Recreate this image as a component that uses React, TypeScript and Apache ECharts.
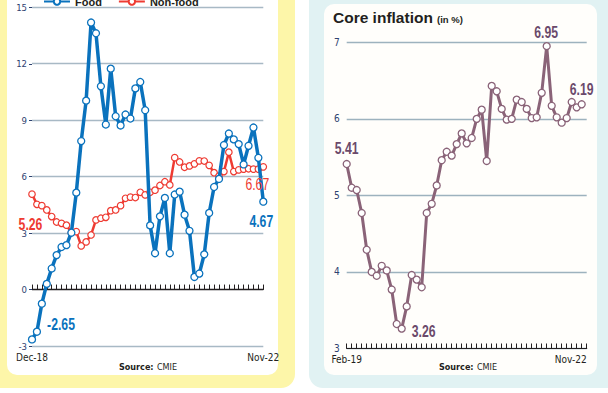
import React, { useEffect, useRef } from "react";
import * as echarts from "echarts";

// ---------- data ----------
const monthAbbr = ["Jan", "Feb", "Mar", "Apr", "May", "Jun", "Jul", "Aug", "Sep", "Oct", "Nov", "Dec"];
// Dec-18 .. Nov-22 (48 months)
const foodMonths = Array.from({ length: 48 }, (_, i) => {
  const m = (11 + i) % 12;
  const y = 18 + Math.floor((11 + i) / 12);
  return `${monthAbbr[m]}-${y}`;
});

const foodValues = [
  -2.65, -2.24, -0.75, 0.3, 1.12, 1.83, 2.26, 2.36, 3.02, 5.15,
  7.89, 10.04, 14.19, 13.62, 10.8, 8.77, 11.74, 9.21, 8.72, 9.3,
  9.09, 10.69, 11.03, 9.53, 3.41, 1.93, 3.89, 4.87, 1.93, 5.05,
  5.2, 3.98, 3.12, 0.67, 0.85, 1.87, 4.07, 5.45, 5.88, 7.68,
  8.29, 7.98, 7.73, 6.65, 7.64, 8.61, 7.0, 4.67,
];

const nonFoodValues = [
  5.07, 4.53, 4.46, 4.23, 3.88, 3.59, 3.52, 3.42, 3.03, 3.08,
  2.32, 2.53, 2.9, 3.7, 3.79, 3.84, 4.19, 4.23, 4.46, 4.85,
  4.91, 4.89, 5.17, 5.03, 5.17, 5.28, 5.53, 5.73, 5.56, 7.01,
  6.78, 6.5, 6.57, 6.68, 6.84, 6.83, 6.6, 6.21, 6.03, 6.27,
  7.3, 6.27, 6.36, 6.4, 6.42, 6.4, 6.4, 6.52,
];

const coreValues = [
  5.41, 5.1, 5.07, 4.77, 4.29, 4.0, 3.95, 4.08, 4.02, 3.77,
  3.32, 3.26, 3.55, 3.96, 3.9, 3.8, 4.77, 4.89, 5.13, 5.46,
  5.57, 5.52, 5.67, 5.81, 5.68, 5.75, 6.0, 6.12, 5.45, 6.43,
  6.36, 6.13, 5.99, 6.0, 6.25, 6.22, 6.13, 6.01, 6.02, 6.34,
  6.95, 6.17, 6.02, 5.95, 6.01, 6.22, 6.15, 6.19,
];

const coreTickLabels = ["Feb-19", "Nov-22"];
const seriesNames = ["Food", "Non-food"];
const foodCallouts = ["-2.65", "4.67"];
const nonFoodCallouts = ["5.26", "6.67"];
const coreCallouts = ["5.41", "3.26", "6.95", "6.19"];

// ---------- styles ----------
const COND = "'Liberation Sans Narrow', 'DejaVu Sans Condensed', 'Liberation Sans', sans-serif";
const LIB = "'Liberation Sans', Arial, sans-serif";
const BLUE = "#0A72BD";
const RED = "#EE3B32";
const MAUVE = "#8A6378";
const MAUVE_TXT = "#6B4A6B";
const AXIS_TXT = "#2E4270";
const GRID = "#A8B9C5";

function buildOption() {
  const srcRich = {
    b: { fontWeight: "bold", fontSize: 9, fontFamily: COND, fill: "#231F20", color: "#231F20" },
    r: { fontSize: 9, fontFamily: COND, fill: "#231F20", color: "#231F20" },
  };

  return {
    animation: false,
    backgroundColor: "#FFFFFF",
    graphic: [
      { id: "bgL", type: "rect", z: -10, silent: true, shape: { x: -20, y: -20, width: 315, height: 408, r: 14 }, style: { fill: "#FDF6A9" } },
      { id: "inL", type: "rect", z: -9, silent: true, shape: { x: 7, y: -20, width: 271, height: 395, r: 10 }, style: { fill: "#FFFFFF" } },
      { id: "bgR", type: "rect", z: -10, silent: true, shape: { x: 309, y: -20, width: 330, height: 408, r: 14 }, style: { fill: "#E1F2F3" } },
      { id: "inR", type: "rect", z: -9, silent: true, shape: { x: 324, y: 4, width: 273, height: 371, r: 10 }, style: { fill: "#FFFEFB" } },
      {
        id: "title", type: "text", z: 10, x: 333, y: 17.5,
        style: { text: "Core inflation", fontSize: 15.5, fontWeight: "bold", fontFamily: LIB, fill: "#231F20", verticalAlign: "middle", align: "left" },
      },
      {
        id: "unit", type: "text", z: 10, x: 437, y: 19.8,
        style: { text: "(in %)", fontSize: 9.5, fontWeight: "bold", fontFamily: LIB, fill: "#231F20", verticalAlign: "middle", align: "left" },
      },
      {
        id: "srcL", type: "text", z: 10, x: 148, y: 367,
        style: { text: "{b|Source:} {r|CMIE}", rich: srcRich, align: "center", verticalAlign: "middle" },
      },
      {
        id: "srcR", type: "text", z: 10, x: 468, y: 367,
        style: { text: "{b|Source:} {r|CMIE}", rich: srcRich, align: "center", verticalAlign: "middle" },
      },
    ],
    legend: {
      top: -9,
      left: 38,
      itemWidth: 26,
      itemHeight: 8,
      itemGap: 16,
      data: seriesNames,
      textStyle: { fontFamily: LIB, fontWeight: "bold", fontSize: 11, color: "#231F20" },
    },
    grid: [
      { left: 32, top: 7.3, width: 231.3, height: 338.7 },
      { left: 346.7, top: 42.3, width: 240, height: 306.2 },
    ],
    xAxis: [
      {
        gridIndex: 0,
        type: "category",
        data: foodMonths,
        boundaryGap: false,
        axisLine: { lineStyle: { color: "#231F20", width: 1.2 } },
        axisTick: { inside: true, length: 5, interval: 0, lineStyle: { color: "#231F20", width: 1 } },
        axisLabel: {
          interval: (i: number) => i === 0 || i === foodMonths.length - 1,
          color: "#231F20",
          fontSize: 10,
          margin: 6,
          fontFamily: COND,
        },
        splitLine: { show: false },
      },
      {
        gridIndex: 1,
        type: "value",
        min: 0,
        max: 48,
        interval: 1,
        axisLine: { lineStyle: { color: "#231F20", width: 1.2 } },
        axisTick: { inside: true, length: 5, lineStyle: { color: "#231F20", width: 1 } },
        axisLabel: {
          formatter: (v: number) => (v === 0 ? coreTickLabels[0] : v === 48 ? coreTickLabels[1] : ""),
          color: "#231F20",
          fontSize: 10,
          margin: 6,
          fontFamily: COND,
          alignMaxLabel: "right",
        },
        splitLine: { show: false },
      },
    ],
    yAxis: [
      {
        gridIndex: 0,
        type: "value",
        min: -3,
        max: 15,
        interval: 3,
        axisLine: { show: false },
        axisTick: { show: true, length: 3, lineStyle: { color: AXIS_TXT } },
        axisLabel: { color: AXIS_TXT, fontSize: 9.5, margin: 5, fontFamily: COND },
        splitLine: { lineStyle: { color: [GRID, "#231F20", GRID, GRID, GRID, GRID, GRID], width: 1.3 } },
      },
      {
        gridIndex: 1,
        type: "value",
        min: 3,
        max: 7,
        interval: 1,
        axisLine: { show: false },
        axisTick: { show: false },
        axisLabel: { color: AXIS_TXT, fontSize: 10, margin: 7, fontFamily: COND },
        splitLine: { lineStyle: { color: "#9DB2BE", width: 1.3 } },
      },
    ],
    series: [
      {
        name: seriesNames[0],
        type: "line",
        xAxisIndex: 0,
        yAxisIndex: 0,
        data: foodValues,
        z: 4,
        symbol: "circle",
        symbolSize: 7,
        showAllSymbol: true,
        lineStyle: { color: BLUE, width: 3.5 },
        itemStyle: { color: "#FFFFFF", borderColor: BLUE, borderWidth: 1.3 },
        emphasis: { disabled: true },
      },
      {
        name: seriesNames[1],
        type: "line",
        xAxisIndex: 0,
        yAxisIndex: 0,
        data: nonFoodValues,
        z: 3,
        symbol: "circle",
        symbolSize: 6.5,
        showAllSymbol: true,
        lineStyle: { color: RED, width: 2.5 },
        itemStyle: { color: "#FFFFFF", borderColor: RED, borderWidth: 1.2 },
        emphasis: { disabled: true },
      },
      {
        name: "Core inflation",
        type: "line",
        xAxisIndex: 1,
        yAxisIndex: 1,
        data: coreValues.map((v, i) => [i, v]),
        z: 3,
        symbol: "circle",
        symbolSize: 7,
        showAllSymbol: true,
        lineStyle: { color: MAUVE, width: 3 },
        itemStyle: { color: "#FFFFFF", borderColor: MAUVE, borderWidth: 1.3 },
        emphasis: { disabled: true },
      },
    ],
  };
}

// callouts anchored to data points through the chart's own scales
function buildCallouts(chart: any) {
  const lastF = foodValues.length - 1;
  const lastN = nonFoodValues.length - 1;
  const lastC = coreValues.length - 1;
  const idxMin = coreValues.indexOf(Math.min(...coreValues));
  const idxMax = coreValues.indexOf(Math.max(...coreValues));
  const defs = [
    { g: 0, i: 0, v: foodValues[0], t: foodCallouts[0], c: BLUE, d: [29, -15], b: true },
    { g: 0, i: lastF, v: foodValues[lastF], t: foodCallouts[1], c: BLUE, d: [-2, 20], b: true },
    { g: 0, i: 0, v: nonFoodValues[0], t: nonFoodCallouts[0], c: RED, d: [-1.5, 30], b: true },
    { g: 0, i: lastN, v: nonFoodValues[lastN], t: nonFoodCallouts[1], c: RED, d: [-6, 17], b: false },
    { g: 1, i: 0, v: coreValues[0], t: coreCallouts[0], c: MAUVE_TXT, d: [0, -16], b: true },
    { g: 1, i: idxMin, v: coreValues[idxMin], t: coreCallouts[1], c: MAUVE_TXT, d: [22, 3], b: true },
    { g: 1, i: idxMax, v: coreValues[idxMax], t: coreCallouts[2], c: MAUVE_TXT, d: [-0.5, -13.5], b: true },
    { g: 1, i: lastC, v: coreValues[lastC], t: coreCallouts[3], c: MAUVE_TXT, d: [0, -15], b: true },
  ];
  return defs.map((d, k) => {
    const p = chart.convertToPixel({ gridIndex: d.g }, [d.i, d.v]);
    return {
      id: "callout" + k,
      type: "text",
      z: 20,
      x: p[0] + d.d[0],
      y: p[1] + d.d[1],
      scaleX: 0.72,
      style: {
        text: d.t,
        fill: d.c,
        fontSize: 17,
        fontWeight: d.b ? "bold" : "normal",
        fontFamily: LIB,
        align: "center",
        verticalAlign: "middle",
      },
    };
  });
}

export default function App() {
  const ref = useRef<HTMLDivElement>(null);
  useEffect(() => {
    if (!ref.current) return;
    const chart = echarts.init(ref.current, null, { renderer: "svg" });
    chart.setOption(buildOption() as any);
    chart.setOption({ graphic: buildCallouts(chart) } as any);
    return () => chart.dispose();
  }, []);
  return <div ref={ref} style={{ position: "fixed", left: 0, top: 0, width: 608, height: 393 }} />;
}
